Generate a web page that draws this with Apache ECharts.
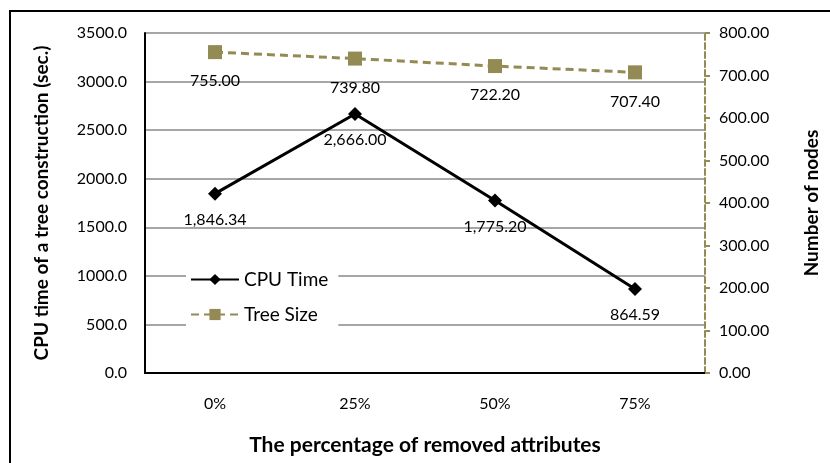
<!DOCTYPE html>
<html style="height: 100%">
<head>
    <meta charset="UTF-8">
    <title>CPU time and tree size</title>
</head>
<body style="height: 100%; margin: 0; background: #fff">
<div id="main" style="width: 830px; height: 463px"></div>

<script src="https://cdn.jsdelivr.net/npm/echarts@6/dist/echarts.min.js"></script>
<script type="text/javascript">

    // data
    var categories = ['0%', '25%', '50%', '75%'];
    var cpuTime = [1846.34, 2666.00, 1775.20, 864.59];
    var treeSize = [755.00, 739.80, 722.20, 707.40];

    var olive = '#948a54';
    var font = 'Lato, "Open Sans", sans-serif';

    function fmt(v, d) {
        return v.toLocaleString('en-US', {minimumFractionDigits: d, maximumFractionDigits: d});
    }

    var myChart = echarts.init(document.getElementById('main'));
    var option = {
        animation: false,
        backgroundColor: '#fff',
        textStyle: {fontFamily: font},
        graphic: [{
            type: 'rect',
            shape: {x: 10, y: 11, width: 900, height: 500},
            style: {fill: 'none', stroke: '#000', lineWidth: 2},
            silent: true
        }],
        grid: {left: 145, right: 125, top: 33, bottom: 90},
        legend: {
            orient: 'vertical',
            left: 186,
            top: 266,
            itemWidth: 48,
            itemHeight: 14,
            itemGap: 16,
            padding: [4, 10, 4, 4],
            backgroundColor: '#fff',
            textStyle: {fontSize: 19, color: '#000', fontFamily: font},
            data: ['CPU Time', 'Tree Size']
        },
        xAxis: {
            type: 'category',
            data: categories,
            boundaryGap: true,
            axisLine: {lineStyle: {color: '#000', width: 2}},
            axisTick: {show: false},
            axisLabel: {margin: 23, fontSize: 16, color: '#000'},
            name: 'The percentage of removed attributes',
            nameLocation: 'middle',
            nameGap: 62,
            nameTextStyle: {fontSize: 21, fontWeight: 'bold', color: '#000'}
        },
        yAxis: [{
            type: 'value',
            min: 0,
            max: 3500,
            interval: 500,
            position: 'left',
            axisLine: {show: true, lineStyle: {color: '#000', width: 2}},
            axisTick: {show: false},
            axisLabel: {
                margin: 18, fontSize: 16, color: '#000',
                formatter: function (v) { return v.toFixed(1); }
            },
            splitLine: {lineStyle: {color: '#a6a6a6', width: 2}},
            name: 'CPU time of a tree construction (sec.)',
            nameLocation: 'middle',
            nameGap: 94,
            nameTextStyle: {fontSize: 19, fontWeight: 'bold', color: '#000'}
        }, {
            type: 'value',
            min: 0,
            max: 800,
            interval: 100,
            position: 'right',
            axisLine: {show: true, lineStyle: {color: olive, width: 2, type: [6, 3]}},
            axisTick: {show: true, inside: false, length: 5, lineStyle: {color: olive, width: 2}},
            axisLabel: {margin: 14, fontSize: 16, color: '#000',
                formatter: function (v) { return v.toFixed(2); }
            },
            splitLine: {show: false},
            name: 'Number of nodes',
            nameLocation: 'middle',
            nameGap: 97,
            nameTextStyle: {fontSize: 19, fontWeight: 'bold', color: '#000'}
        }],
        series: [{
            name: 'CPU Time',
            type: 'line',
            yAxisIndex: 0,
            data: cpuTime,
            symbol: 'diamond',
            symbolSize: 14,
            itemStyle: {color: '#000'},
            lineStyle: {color: '#000', width: 3},
            label: {
                show: true,
                position: 'bottom',
                distance: 11,
                fontSize: 16,
                color: '#000',
                formatter: function (p) { return fmt(p.value, 2); }
            },
            z: 3
        }, {
            name: 'Tree Size',
            type: 'line',
            yAxisIndex: 1,
            data: treeSize,
            symbol: 'rect',
            symbolSize: 14,
            itemStyle: {color: olive},
            lineStyle: {color: olive, width: 3, type: [8, 5]},
            label: {
                show: true,
                position: 'bottom',
                distance: 14,
                fontSize: 16,
                color: '#000',
                formatter: function (p) { return fmt(p.value, 2); }
            },
            z: 3
        }]
    };

    myChart.setOption(option);

</script>
</body>
</html>
